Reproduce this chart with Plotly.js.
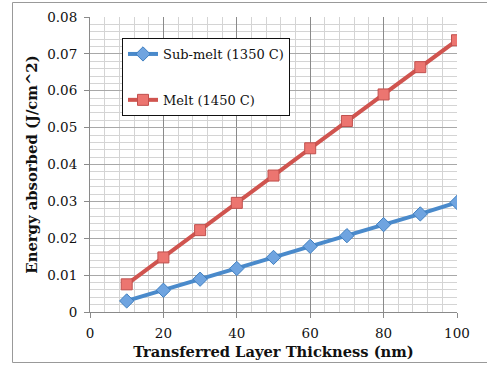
<!DOCTYPE html>
<html><head><meta charset="utf-8">
<script src="https://cdn.plot.ly/plotly-3.0.1.min.js"></script>
<style>html,body{margin:0;padding:0;background:#fff;}#c{width:487px;height:368px;}</style>
</head><body><div id="c"></div>
<script>
const thickness = [10,20,30,40,50,60,70,80,90,100];
const subMelt = [0.0030,0.0059,0.0089,0.0118,0.0148,0.0178,0.0207,0.0237,0.0266,0.0297];
const melt = [0.0075,0.0148,0.0222,0.0296,0.0370,0.0444,0.0518,0.0590,0.0664,0.0737];
const seriesNames = ['Sub-melt (1350 C)','Melt (1450 C)'];
const font = 'DejaVu Serif, Liberation Serif, serif';
const traces = [
 {x:thickness,y:subMelt,name:seriesNames[0],type:'scatter',mode:'lines+markers',legendgroup:'a',
  line:{color:'#4a8acb',width:4},marker:{symbol:'diamond',size:11,color:'#6fa4e0',line:{color:'#3f7fc0',width:1}}},
 {x:thickness,y:melt,name:seriesNames[1],type:'scatter',mode:'lines+markers',legendgroup:'b',
  line:{color:'#d0544f',width:4},marker:{symbol:'square',size:11,color:'#ec7570',line:{color:'#c0504d',width:1}}}
];
const L=90,R=30,T=17,B=56,W=487,H=368;
const pw=W-L-R, ph=H-T-B;
const px=(v)=> (v-L)/pw, py=(v)=> (H-B-v)/ph;
const layout = {
 width:W,height:H,margin:{l:L,r:R,t:T,b:B},paper_bgcolor:'#fff',plot_bgcolor:'#fff',
 font:{family:font,size:13.5,color:'#111'},
 showlegend:true,
 legend:{x:px(122),y:py(38),xanchor:'left',yanchor:'top',bgcolor:'#fff',bordercolor:'#111',borderwidth:1,
   font:{family:font,size:13,color:'#111'},traceorder:'grouped',tracegroupgap:26,itemwidth:30},
 xaxis:{range:[0,100],dtick:20,tick0:0,showgrid:true,gridcolor:'#8a8a8a',gridwidth:1,
   minor:{dtick:4,showgrid:true,gridcolor:'#d4d4d4',gridwidth:1,ticks:''},
   showline:true,linecolor:'#8a8a8a',linewidth:1,ticks:'outside',ticklen:5,tickcolor:'#8a8a8a',
   ticklabelstandoff:4,
   zeroline:false,tickfont:{family:font,size:13.5,color:'#111'},
   title:{text:'<b>Transferred Layer Thickness (nm)</b>',font:{family:font,size:14.7,color:'#111'},standoff:6}},
 yaxis:{range:[0,0.08],dtick:0.01,tick0:0,showgrid:true,gridcolor:'#a8a8a8',gridwidth:1,
   minor:{dtick:0.002,showgrid:true,gridcolor:'#d4d4d4',gridwidth:1,ticks:''},
   showline:true,linecolor:'#8a8a8a',linewidth:1,ticks:'outside',ticklen:5,tickcolor:'#8a8a8a',
   ticklabelstandoff:4,
   zeroline:false,tickfont:{family:font,size:13.5,color:'#111'},
   title:{text:'<b>Energy absorbed (J/cm^2)</b>',font:{family:font,size:14.8,color:'#111'},standoff:6}},
 shapes:[{type:'rect',xref:'paper',yref:'paper',x0:px(12.5),x1:px(490),y0:py(362.5),y1:py(2.5),
   line:{color:'#999',width:1},fillcolor:'rgba(0,0,0,0)',layer:'below'}]
};
Plotly.newPlot('c',traces,layout,{displayModeBar:false,staticPlot:true});
</script></body></html>
